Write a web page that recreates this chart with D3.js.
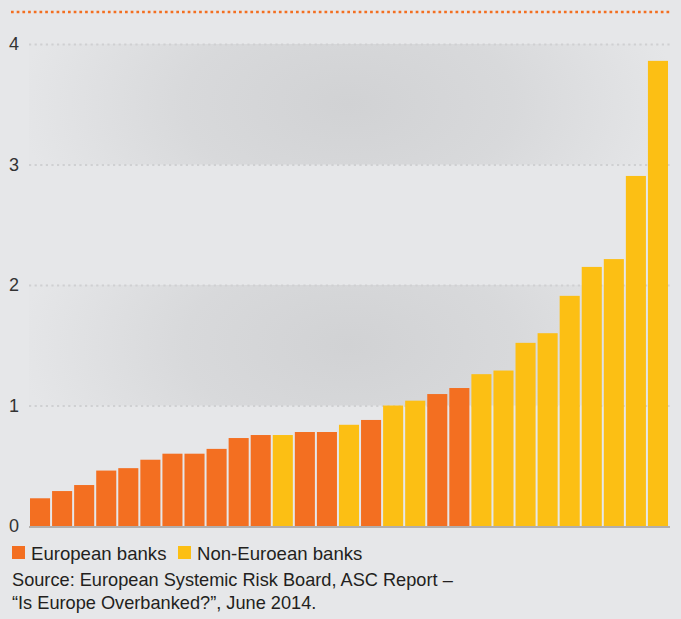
<!DOCTYPE html>
<html>
<head>
<meta charset="utf-8">
<script src="https://cdn.jsdelivr.net/npm/d3@7"></script>
<style>
  html, body { margin: 0; padding: 0; background: #e6e7e9; }
  svg { display: block; font-family: "Liberation Sans", Arial, Helvetica, sans-serif; }
</style>
</head>
<body>
<svg id="chart" width="681" height="619"></svg>
<script>
// Data
const values = [0.23, 0.29, 0.34, 0.46, 0.48, 0.55, 0.60, 0.60, 0.64, 0.73, 0.755,
                0.755, 0.78, 0.78, 0.84, 0.88, 1.00, 1.04, 1.095, 1.145, 1.26, 1.29,
                1.52, 1.60, 1.91, 2.15, 2.215, 2.905, 3.86];
const groups = ["E","E","E","E","E","E","E","E","E","E","E",
                "N","E","E","N","E","N","N","E","E","N","N",
                "N","N","N","N","N","N","N"];
const yTicks = [0, 1, 2, 3, 4];
const legendLabels = ["European banks", "Non-Euroean banks"];
const sourceLines = ["Source: European Systemic Risk Board, ASC Report \u2013",
                     "\u201cIs Europe Overbanked?\u201d, June 2014."];

const colors = { E: "#f36f21", N: "#fcbf14" };

const svg = d3.select("#chart");
const x0 = 29, x1 = 669;

const x = d3.scaleBand()
  .domain(d3.range(values.length))
  .range([x0, x1])
  .paddingInner(2 / 22)
  .paddingOuter(1 / 22);

const y = d3.scaleLinear().domain([0, 4]).range([526, 44]);

// background
svg.append("rect").attr("width", 681).attr("height", 619).attr("fill", "#e6e7e9");

// shaded bands with radial gradients
const defs = svg.append("defs");
const bands = [[1, 2], [3, 4]];
bands.forEach((b, i) => {
  const cy = (y(b[0]) + y(b[1])) / 2;
  const cx = (x0 + x1) / 2;
  const g = defs.append("radialGradient")
    .attr("id", "bg" + i)
    .attr("gradientUnits", "userSpaceOnUse")
    .attr("cx", cx).attr("cy", cy).attr("r", 330)
    .attr("gradientTransform", `translate(${cx},${cy}) scale(1,0.55) translate(${-cx},${-cy})`);
  g.append("stop").attr("offset", 0).attr("stop-color", "#d1d2d4");
  g.append("stop").attr("offset", 0.5).attr("stop-color", "#d8d9db");
  g.append("stop").attr("offset", 1).attr("stop-color", "#e5e6e8");
  svg.append("rect")
    .attr("x", x0).attr("width", x1 - x0 + 1)
    .attr("y", y(b[1])).attr("height", y(b[0]) - y(b[1]))
    .attr("fill", `url(#bg${i})`);
});

// top orange dotted rule
svg.append("line")
  .attr("x1", 11).attr("x2", 671).attr("y1", 12).attr("y2", 12)
  .attr("stroke", "#f36f21").attr("stroke-width", 2.5)
  .attr("stroke-dasharray", "2.7 3");

// y axis: gridlines + labels
const yAxis = d3.axisLeft(y).tickValues(yTicks).tickSize(0).tickFormat(d3.format("d"));
const ax = svg.append("g").call(yAxis);
ax.select(".domain").remove();
ax.selectAll(".tick text")
  .attr("x", 9).attr("text-anchor", "start")
  .attr("font-family", "Liberation Sans, Arial, sans-serif")
  .attr("font-size", 18).attr("fill", "#333333");
ax.selectAll(".tick").filter(d => d > 0).append("line")
  .attr("x1", x0).attr("x2", x1 + 2)
  .attr("stroke", "#cfd0d2").attr("stroke-width", 2)
  .attr("stroke-dasharray", "2.2 3.4");

// bars
svg.append("g").selectAll("rect")
  .data(values)
  .join("rect")
  .attr("x", (d, i) => x(i))
  .attr("width", x.bandwidth())
  .attr("y", d => y(d))
  .attr("height", d => y(0) - y(d))
  .attr("fill", (d, i) => colors[groups[i]]);

// baseline
svg.append("line")
  .attr("x1", x0).attr("x2", x1 + 1).attr("y1", y(0) + 1).attr("y2", y(0) + 1)
  .attr("stroke", "#b3aeab").attr("stroke-width", 2);

// legend
const legendX = [12, 178];
const leg = svg.append("g");
legendLabels.forEach((t, i) => {
  leg.append("rect").attr("x", legendX[i]).attr("y", 546).attr("width", 13).attr("height", 13)
    .attr("fill", colors[i === 0 ? "E" : "N"]);
  leg.append("text").attr("x", legendX[i] + 19).attr("y", 559.5)
    .attr("font-size", 18.6).attr("fill", "#231f20").text(t);
});

// source
sourceLines.forEach((t, i) => {
  svg.append("text").attr("x", 12).attr("y", 586 + i * 23)
    .attr("font-size", 18.2).attr("fill", "#231f20").text(t);
});
</script>
</body>
</html>
